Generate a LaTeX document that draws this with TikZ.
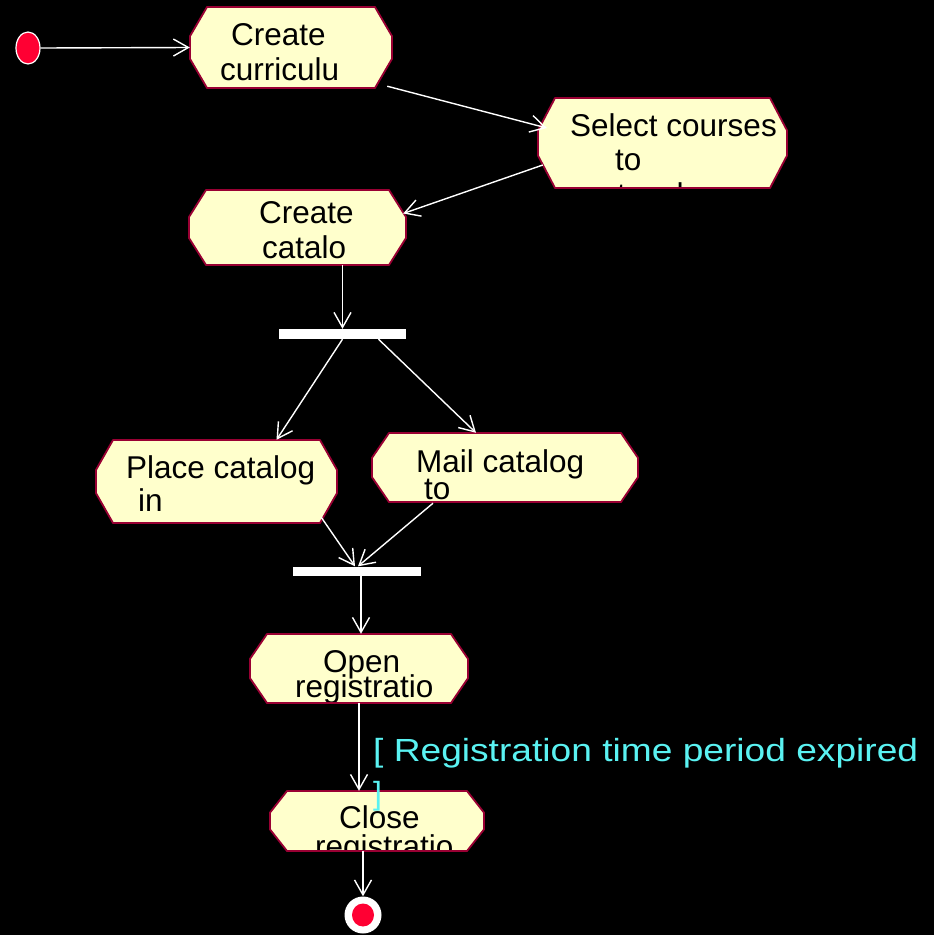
\documentclass[tikz,border=0pt]{standalone}
\usepackage{fontspec}
\setmainfont{Liberation Sans}
\usetikzlibrary{arrows.meta,shapes.geometric,calc}

\definecolor{boxfill}{RGB}{255,255,204}
\definecolor{boxline}{RGB}{153,0,51}
\definecolor{dotred}{RGB}{255,0,51}
\definecolor{guardcol}{RGB}{90,242,242}

\tikzset{
  flow/.style={draw=white, line width=1.4pt,
    -{Straight Barb[length=15pt,width=17pt,line width=1.4pt]}},
  actfill/.style={fill=boxfill},
  actedge/.style={draw=boxline, line width=1.8pt, line join=round},
  anchorbox/.style={rectangle, inner sep=0pt, draw=none},
  acttext/.style={anchor=base west, inner sep=0pt, text=black,
    font=\fontsize{31.5}{35}\selectfont},
  syncbar/.style={rectangle, fill=white, inner sep=0pt, draw=none},
  guard/.style={anchor=base west, inner sep=0pt, text=guardcol, align=left,
    font=\fontsize{32}{43}\selectfont},
}

% Activity box: #1 name, #2..#5 = x0,y0,x1,y1, #6 text nodes (clipped to the box)
\newcommand\actbox[6]{%
  \pgfmathsetmacro\ax{#2+17}\pgfmathsetmacro\bx{#4-17}%
  \pgfmathsetmacro\ay{#3+0.36*(#5-#3)}\pgfmathsetmacro\by{#5-0.36*(#5-#3)}%
  \pgfmathsetmacro\bw{#4-#2}\pgfmathsetmacro\bh{#5-#3}%
  \path[actfill] (\ax,#3) -- (\bx,#3) -- (#4,\ay) -- (#4,\by) -- (\bx,#5)
     -- (\ax,#5) -- (#2,\by) -- (#2,\ay) -- cycle;
  \node[anchorbox, minimum width=\bw pt, minimum height=\bh pt]
     (#1) at ({(#2+#4)/2},{(#3+#5)/2}) {};
  \begin{scope}
    \clip (\ax,#3) -- (\bx,#3) -- (#4,\ay) -- (#4,\by) -- (\bx,#5)
     -- (\ax,#5) -- (#2,\by) -- (#2,\ay) -- cycle;
    #6
  \end{scope}
  \path[actedge] (\ax,#3) -- (\bx,#3) -- (#4,\ay) -- (#4,\by) -- (\bx,#5)
     -- (\ax,#5) -- (#2,\by) -- (#2,\ay) -- cycle;
}

\begin{document}
\begin{tikzpicture}[x=1pt,y=-1pt]
  \fill[black] (0,0) rectangle (934,935);
  \useasboundingbox (0,0) rectangle (934,935);

  % initial state
  \node[ellipse, fill=dotred, draw=white, line width=1.2pt,
        minimum width=24pt, minimum height=32pt, inner sep=0pt] (start) at (28,48) {};

  % activities
  \actbox{cc}{190}{7}{392}{88}{%
    \node[acttext] (cc1) at (231,45) {Create};
    \node[acttext] (cc2) at (220,80) {curriculu};}
  \actbox{sc}{538}{98}{787}{188}{%
    \node[acttext] (sc1) at (570,136) {Select courses};
    \node[acttext] (sc2) at (615,170) {to};
    \node[acttext] (sc3) at (617,205) {teach};}
  \actbox{ca}{189}{190}{406}{265}{%
    \node[acttext] (ca1) at (259,223) {Create};
    \node[acttext] (ca2) at (262,258) {catalo};}
  \actbox{pc}{96}{440}{337}{523}{%
    \node[acttext] (pc1) at (126,478) {Place catalog};
    \node[acttext] (pc2) at (138,511) {in};}
  \actbox{mc}{372}{433}{638}{502}{%
    \node[acttext] (mc1) at (416,472) {Mail catalog};
    \node[acttext] (mc2) at (424,499) {to};}
  \actbox{orr}{250}{634}{468}{703}{%
    \node[acttext] (or1) at (323,672) {Open};
    \node[acttext] (or2) at (295,697) {registratio};}
  \actbox{cr}{270}{791}{484}{851}{%
    \node[acttext] (cr1) at (339,828) {Close};
    \node[acttext] (cr2) at (315,857) {registratio};}

  % synchronisation bars
  \node[syncbar, minimum width=127pt, minimum height=10pt] (bar1) at (342.5,334) {};
  \node[syncbar, minimum width=128pt, minimum height=9pt] (bar2) at (357,571) {};

  % final state
  \node[circle, fill=white, minimum size=37pt, inner sep=0pt] (fin) at (363,915) {};
  \node[ellipse, fill=dotred, minimum width=22pt, minimum height=23pt, inner sep=0pt]
    (fincore) at (fin.center) {};

  % transitions
  \draw[flow] (start.east) -- (cc.west);
  \draw[flow] ($(cc.south east)+(-5,-2)$) -- ($(sc.west)+(9,-15)$);
  \draw[flow] ($(sc.west)+(5,22)$) -- ($(ca.east)+(-3,-14)$);
  \draw[flow] (ca.south -| bar1.north) -- (bar1.north);
  \draw[flow] (bar1.south) -- ($(pc.north)+(60,0)$);
  \draw[flow] ($(bar1.south)+(36,0)$) -- ($(mc.north)+(-29,0)$);
  \draw[flow] ($(pc.south east)+(-16,-6)$) -- ($(bar2.north)+(-2,0)$);
  \draw[flow] ($(mc.south)+(-72,1)$) -- ($(bar2.north)+(1,0)$);
  \draw[flow] ($(bar2.south)+(4,0)$) -- ($(orr.north)+(2,0)$);
  \draw[flow] (orr.south) -- (orr.south |- cr.north);
  \draw[flow] (cr.south -| fin.north) -- (fin.north);

  % guard condition on the Open -> Close transition (base = last line)
  \node[guard] (grd) at (373,804)
    {\resizebox{545pt}{\height}{[ Registration time period expired}\\]};
\end{tikzpicture}
\end{document}
